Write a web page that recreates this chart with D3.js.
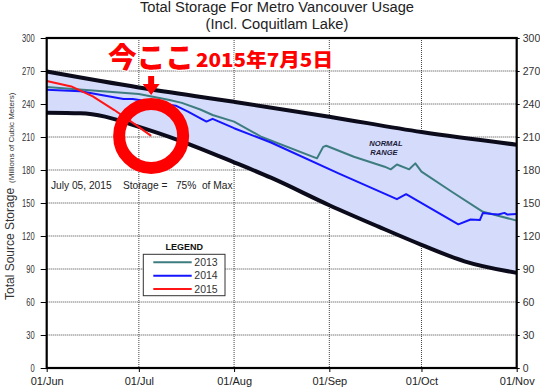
<!DOCTYPE html>
<html>
<head>
<meta charset="utf-8">
<script src="https://cdnjs.cloudflare.com/ajax/libs/d3/7.8.5/d3.min.js"></script>
<style>
  body { margin: 0; background: #fff; }
  svg { display: block; font-family: "Liberation Sans", Arial, sans-serif; }
</style>
</head>
<body>
<div id="chart"></div>
<script>
// Storage values in millions of cubic meters, keyed by "MM-DD".
const normalHigh = [["06-01", 269.5], ["07-01", 255], ["08-01", 242], ["09-01", 228.5], ["10-01", 214.5], ["11-01", 203]];
const normalLow = [["06-01", 232], ["06-12", 231.5], ["06-20", 228.5], ["06-29", 221], ["07-14", 207], ["08-01", 187],
  ["08-13", 173], ["09-01", 148], ["09-17", 128.5], ["10-01", 112], ["10-15", 97], ["11-01", 86.5]];
const y2013 = [["06-01", 255.5], ["07-01", 249], ["07-11", 243.6], ["07-15", 241], ["07-21", 235], ["07-25", 230],
  ["08-01", 224], ["08-10", 210], ["08-28", 190.6], ["08-30", 201], ["08-31", 202], ["09-09", 192], ["09-19", 183],
  ["09-21", 180.6], ["09-23", 185], ["09-27", 180.6], ["09-29", 186], ["10-01", 178.5], ["10-11", 160],
  ["10-21", 142], ["11-01", 134]];
const y2014 = [["06-01", 253], ["06-12", 251.5], ["06-26", 244.5], ["06-29", 244.5], ["07-13", 238.5], ["07-17", 233],
  ["07-23", 224], ["07-25", 226.5], ["08-01", 218], ["08-13", 205], ["09-04", 177], ["09-23", 153.5], ["09-26", 158],
  ["10-13", 130.6], ["10-17", 135], ["10-20", 134.5], ["10-21", 141], ["10-24", 140], ["10-26", 139.5],
  ["10-28", 141], ["10-29", 139.5], ["11-01", 140]];
const y2015 = [["06-01", 261], ["06-09", 256], ["06-16", 247], ["06-23", 234.5], ["06-30", 221], ["07-05", 211]];

const monthTicks = ["06-01", "07-01", "08-01", "09-01", "10-01", "11-01"];
const monthLabels = ["01/Jun", "01/Jul", "01/Aug", "01/Sep", "01/Oct", "01/Nov"];
const yTicks = [0, 30, 60, 90, 120, 150, 180, 210, 240, 270, 300];
const series = [
  {name: "2013", data: y2013, color: "#3e7d7f"},
  {name: "2014", data: y2014, color: "#1515ff"},
  {name: "2015", data: y2015, color: "#ff1515"}
];

const parse = d3.timeParse("%Y-%m-%d");
const day = s => parse("2015-" + s);

const W = 540, H = 387;
const margin = {top: 38, right: 23.3, bottom: 19, left: 46.7};
const width = W - margin.left - margin.right,
      height = H - margin.top - margin.bottom;

const svg = d3.select("#chart").append("svg")
    .attr("width", W)
    .attr("height", H);

const g = svg.append("g")
    .attr("transform", `translate(${margin.left},${margin.top})`);

const x = d3.scaleTime()
    .domain([day("06-01"), day("11-01")])
    .range([0, width]);

const y = d3.scaleLinear()
    .domain([0, 300])
    .range([height, 0]);

// Grid lines (dotted).
g.append("g")
  .selectAll("line")
  .data(yTicks.slice(1, -1))
  .join("line")
    .attr("x1", 0).attr("x2", width)
    .attr("y1", d => y(d)).attr("y2", d => y(d))
    .attr("stroke", "#444")
    .attr("stroke-dasharray", "1,1");

g.append("g")
  .selectAll("line")
  .data(monthTicks.slice(1, -1))
  .join("line")
    .attr("x1", d => x(day(d))).attr("x2", d => x(day(d)))
    .attr("y1", 0).attr("y2", height)
    .attr("stroke", "#444")
    .attr("stroke-dasharray", "1,1");

// Normal range band.
const hi = d3.scaleLinear().domain(normalHigh.map(d => +day(d[0]))).range(normalHigh.map(d => d[1]));
const bandDays = d3.timeDay.range(day("06-01"), d3.timeDay.offset(day("11-01"), 1));
const boundLine = d3.line().x(d => x(day(d[0]))).y(d => y(d[1])).curve(d3.curveMonotoneX);

const lowPath = boundLine(normalLow);
const highPath = boundLine(normalHigh);

// Sample the low bound along its curve so the fill follows it.
const lowNode = g.append("path").attr("d", lowPath).attr("fill", "none").node();
const lowLen = lowNode.getTotalLength();
const lowSamples = d3.range(0, lowLen + 1, 1).map(l => lowNode.getPointAtLength(l));
function lowInterp(d) {
  const i = d3.bisector(p => p.x).left(lowSamples, x(d));
  return y.invert(lowSamples[Math.min(i, lowSamples.length - 1)].y);
}
lowNode.remove();

const area = d3.area()
    .x(d => x(d))
    .y0(d => y(lowInterp(d)))
    .y1(d => y(hi(+d)));

g.append("path")
    .datum(bandDays)
    .attr("fill", "#d4dbfb")
    .attr("d", area);

g.append("path")
    .attr("d", highPath)
    .attr("fill", "none")
    .attr("stroke", "#0b0b1c")
    .attr("stroke-width", 4);

g.append("path")
    .attr("d", lowPath)
    .attr("fill", "none")
    .attr("stroke", "#0b0b1c")
    .attr("stroke-width", 4);

// Yearly lines.
const line = d3.line().x(d => x(day(d[0]))).y(d => y(d[1]));
series.forEach(s => {
  g.append("path")
      .datum(s.data)
      .attr("fill", "none")
      .attr("stroke", s.color)
      .attr("stroke-width", 2)
      .attr("stroke-linejoin", "round")
      .attr("d", line);
});

// Frame.
g.append("rect")
    .attr("width", width)
    .attr("height", height)
    .attr("fill", "none")
    .attr("stroke", "#000")
    .attr("stroke-width", 2.2);

// Axes.
const yLeft = g.append("g")
    .call(d3.axisLeft(y).tickValues(yTicks).tickSize(6).tickPadding(6).tickSizeOuter(0));
yLeft.select(".domain").remove();
yLeft.selectAll("text")
    .attr("font-size", 10.5)
    .attr("fill", "#333")
    .attr("textLength", d => String(d).length * 4.2)
    .attr("lengthAdjust", "spacingAndGlyphs");

const yRight = g.append("g")
    .attr("transform", `translate(${width},0)`)
    .call(d3.axisRight(y).tickValues(yTicks).tickSize(3).tickPadding(3).tickSizeOuter(0));
yRight.select(".domain").remove();
yRight.selectAll("text").attr("font-size", 10.5).attr("fill", "#333");

const xAxis = g.append("g")
    .attr("transform", `translate(0,${height})`)
    .call(d3.axisBottom(x)
      .tickValues(monthTicks.map(day))
      .tickFormat((d, i) => monthLabels[i])
      .tickSize(4).tickPadding(5).tickSizeOuter(0));
xAxis.select(".domain").remove();
xAxis.selectAll("text").attr("font-size", 11).attr("fill", "#222");

// Titles.
svg.append("text")
    .attr("x", 277).attr("y", 12)
    .attr("text-anchor", "middle")
    .attr("font-size", 14.7)
    .attr("fill", "#222")
    .text("Total Storage For Metro Vancouver Usage");
svg.append("text")
    .attr("x", 277).attr("y", 29)
    .attr("text-anchor", "middle")
    .attr("font-size", 14.7)
    .attr("fill", "#222")
    .text("(Incl. Coquitlam Lake)");

const yLabel = svg.append("text")
    .attr("transform", "translate(14,300) rotate(-90)")
    .attr("fill", "#333");
yLabel.append("tspan").attr("font-size", 12).text("Total Source Storage");
yLabel.append("tspan").attr("font-size", 8).attr("dx", 5).text("(Millions of Cubic Meters)");

// Status text.
svg.append("text")
    .attr("x", 51).attr("y", 189)
    .attr("font-size", 10.2)
    .attr("fill", "#222")
    .style("white-space", "pre")
    .text("July 05, 2015    Storage =   75%  of Max");

// Normal range label.
const nr = g.append("text")
    .attr("font-size", 7.6)
    .attr("font-weight", "bold")
    .attr("font-style", "italic")
    .attr("fill", "#1c1c3a");
nr.append("tspan").attr("x", x(day("09-14"))).attr("y", y(201.5)).text("NORMAL");
nr.append("tspan").attr("x", x(day("09-14")) + 1).attr("y", y(194)).text("RANGE");

// Legend.
const lg = svg.append("g").attr("transform", "translate(143.3,254.3)");
lg.append("text")
    .attr("x", 41).attr("y", -4)
    .attr("text-anchor", "middle")
    .attr("font-size", 9)
    .attr("font-weight", "bold")
    .attr("fill", "#111")
    .text("LEGEND");
lg.append("rect")
    .attr("width", 81.7).attr("height", 41.4)
    .attr("fill", "#fff")
    .attr("stroke", "#333")
    .attr("stroke-width", 1);
series.forEach((s, i) => {
  const yy = 8 + i * 13.4;
  lg.append("line")
      .attr("x1", 10).attr("x2", 48.4)
      .attr("y1", yy).attr("y2", yy)
      .attr("stroke", s.color)
      .attr("stroke-width", 2);
  lg.append("text")
      .attr("x", 51).attr("y", yy + 3.8)
      .attr("font-size", 10.5)
      .attr("fill", "#333")
      .text(s.name);
});

// "Now here" annotation at the last 2015 reading.
const last = y2015[y2015.length - 1];
const cx = margin.left + x(day(last[0])), cy = margin.top + y(last[1]);
svg.append("circle")
    .attr("cx", cx).attr("cy", cy)
    .attr("r", 32)
    .attr("fill", "none")
    .attr("stroke", "#ff0000")
    .attr("stroke-width", 12);

const tipY = cy - 41;
svg.append("path")
    .attr("d", `M${cx - 3},${tipY - 19} h6 v8 h5.5 L${cx},${tipY} L${cx - 8.5},${tipY - 11} h5.5 Z`)
    .attr("fill", "#ff0000");

svg.append("text")
    .attr("x", 108).attr("y", 68)
    .attr("font-family", "'Noto Sans CJK JP', sans-serif")
    .attr("font-size", 28)
    .attr("font-weight", 900)
    .attr("fill", "#ff0000")
    .attr("stroke", "#fff")
    .attr("stroke-width", 2)
    .attr("paint-order", "stroke")
    .attr("textLength", 86)
    .attr("lengthAdjust", "spacingAndGlyphs")
    .text("今ここ");
svg.append("text")
    .attr("x", 196).attr("y", 66.5)
    .attr("font-family", "'Noto Sans CJK JP', sans-serif")
    .attr("font-size", 19)
    .attr("font-weight", 900)
    .attr("fill", "#ff0000")
    .attr("stroke", "#fff")
    .attr("stroke-width", 2)
    .attr("paint-order", "stroke")
    .attr("textLength", 137)
    .attr("lengthAdjust", "spacingAndGlyphs")
    .text("2015年7月5日");
</script>
</body>
</html>
